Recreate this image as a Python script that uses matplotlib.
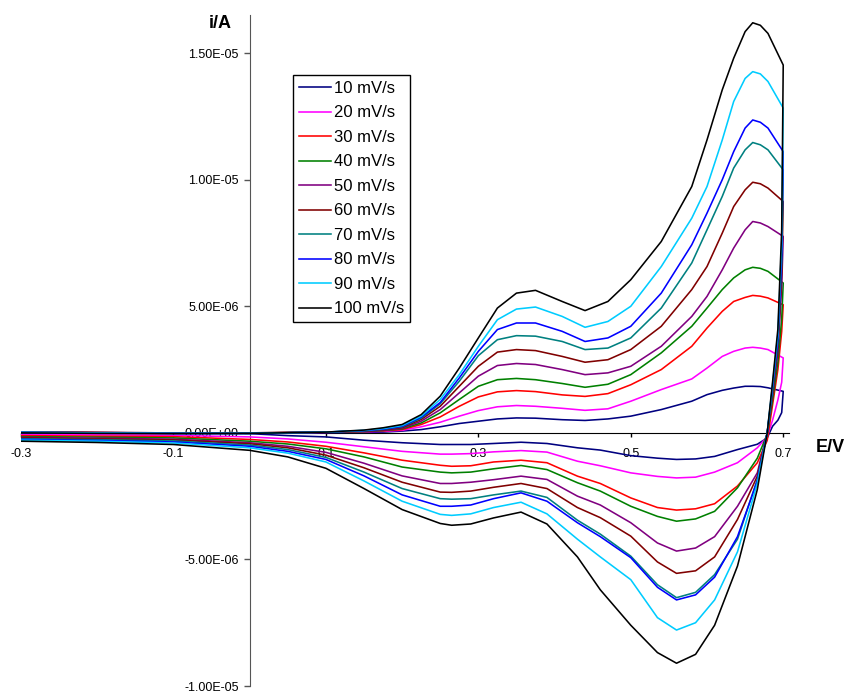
import matplotlib
matplotlib.use("Agg")
import matplotlib.pyplot as plt
from matplotlib.ticker import FixedLocator, FuncFormatter

plt.rcParams["font.family"] = ["Liberation Sans", "DejaVu Sans"]

# potentials (V) for the forward (anodic) scan and the return scan
fwd_E = [-0.3, -0.2, -0.1, 0.0, 0.1, 0.15, 0.175, 0.2, 0.225, 0.25, 0.275, 0.3, 0.325,
         0.35, 0.375, 0.41, 0.44, 0.47, 0.5, 0.54, 0.58, 0.6, 0.62, 0.635, 0.65, 0.66,
         0.67, 0.68, 0.7]
rev_E = [0.698, 0.693, 0.686, 0.679, 0.666, 0.64, 0.61, 0.585, 0.56, 0.535, 0.5,
         0.46, 0.43, 0.39, 0.356, 0.32, 0.29, 0.265, 0.25, 0.2, 0.15, 0.1, 0.05, 0.0,
         -0.1, -0.2, -0.3]

labels = ["10 mV/s", "20 mV/s", "30 mV/s", "40 mV/s", "50 mV/s",
          "60 mV/s", "70 mV/s", "80 mV/s", "90 mV/s", "100 mV/s"]
colors = ["#000080", "#FF00FF", "#FF0000", "#008000", "#800080",
          "#800000", "#008080", "#0000FF", "#00CCFF", "#000000"]

# currents in microamps
fwd_i10 = [0.02, 0.01, 0.0, 0.0, 0.01, 0.02, 0.03, 0.07, 0.13, 0.24, 0.37, 0.46, 0.55,
           0.59, 0.58, 0.52, 0.49, 0.55, 0.66, 0.92, 1.25, 1.51, 1.68, 1.77, 1.84, 1.84,
           1.83, 1.78, 1.64]
fwd_i20 = [0.03, 0.01, 0.0, 0.0, 0.02, 0.04, 0.06, 0.1, 0.24, 0.42, 0.66, 0.88, 1.03,
           1.08, 1.05, 0.97, 0.89, 0.95, 1.25, 1.71, 2.13, 2.56, 3.02, 3.22, 3.35, 3.38,
           3.35, 3.29, 2.96]
fwd_i30 = [0.03, 0.01, 0.0, 0.0, 0.03, 0.05, 0.08, 0.13, 0.33, 0.63, 1.05, 1.42, 1.62,
           1.67, 1.63, 1.5, 1.44, 1.55, 1.9, 2.5, 3.42, 4.14, 4.8, 5.19, 5.35, 5.43,
           5.4, 5.33, 5.06]
fwd_i40 = [0.03, 0.01, 0.0, 0.0, 0.03, 0.05, 0.09, 0.16, 0.39, 0.79, 1.32, 1.84, 2.1,
           2.15, 2.1, 1.95, 1.8, 1.92, 2.3, 3.16, 4.21, 4.93, 5.66, 6.12, 6.44, 6.54,
           6.5, 6.38, 5.92]
fwd_i50 = [0.03, 0.01, -0.01, -0.01, 0.03, 0.06, 0.1, 0.18, 0.46, 0.92, 1.58, 2.24, 2.66,
           2.74, 2.7, 2.5, 2.3, 2.37, 2.63, 3.42, 4.6, 5.39, 6.44, 7.3, 8.02, 8.35,
           8.29, 8.15, 7.76]
fwd_i60 = [0.03, 0.01, -0.01, -0.01, 0.03, 0.07, 0.12, 0.21, 0.53, 1.05, 1.84, 2.63, 3.19,
           3.29, 3.25, 3.02, 2.79, 2.89, 3.29, 4.21, 5.66, 6.57, 7.89, 8.94, 9.6, 9.9,
           9.84, 9.67, 9.14]
fwd_i70 = [0.02, 0.0, -0.02, -0.02, 0.03, 0.08, 0.14, 0.24, 0.58, 1.15, 2.04, 3.05, 3.68,
           3.84, 3.82, 3.61, 3.29, 3.35, 3.75, 4.93, 6.71, 8.02, 9.34, 10.46, 11.18,
           11.47, 11.38, 11.18, 10.39]
fwd_i80 = [0.02, 0.0, -0.02, -0.02, 0.03, 0.09, 0.15, 0.26, 0.62, 1.2, 2.17, 3.22, 4.08,
           4.34, 4.34, 4.01, 3.61, 3.75, 4.21, 5.52, 7.43, 8.68, 10.0, 11.11, 12.04,
           12.36, 12.27, 12.04, 11.11]
fwd_i90 = [0.02, 0.0, -0.02, -0.02, 0.03, 0.1, 0.17, 0.29, 0.66, 1.32, 2.3, 3.42, 4.47,
           4.89, 4.97, 4.6, 4.17, 4.4, 5.0, 6.57, 8.48, 9.73, 11.57, 13.09, 14.0, 14.27,
           14.18, 13.88, 12.83]
fwd_i100 = [0.0, -0.02, -0.03, -0.02, 0.03, 0.11, 0.2, 0.33, 0.72, 1.45, 2.56, 3.75, 4.93,
            5.52, 5.63, 5.19, 4.83, 5.19, 6.05, 7.56, 9.73, 11.57, 13.55, 14.8, 15.85,
            16.2, 16.1, 15.78, 14.53]

rev_i10 = [0.8, 0.5, 0.26, -0.2, -0.45, -0.66, -0.93, -1.03, -1.05, -1.0, -0.9, -0.68,
           -0.59, -0.42, -0.37, -0.42, -0.46, -0.46, -0.46, -0.39, -0.29, -0.16, -0.11,
           -0.03, -0.03, -0.03, -0.03]
rev_i20 = [2.0, 1.3, 0.5, -0.15, -0.59, -1.18, -1.55, -1.75, -1.78, -1.72, -1.58, -1.3,
           -1.12, -0.76, -0.7, -0.75, -0.82, -0.84, -0.84, -0.73, -0.55, -0.37, -0.24,
           -0.16, -0.1, -0.08, -0.07]
rev_i30 = [4.0, 2.5, 1.1, -0.3, -1.18, -2.1, -2.8, -3.0, -3.05, -2.95, -2.57, -2.0,
           -1.71, -1.18, -1.08, -1.15, -1.3, -1.32, -1.28, -1.08, -0.79, -0.53, -0.36,
           -0.26, -0.15, -0.13, -0.11]
rev_i40 = [4.5, 2.8, 1.3, -0.05, -1.0, -2.17, -3.1, -3.4, -3.49, -3.3, -2.9, -2.3,
           -1.97, -1.45, -1.29, -1.42, -1.55, -1.58, -1.55, -1.35, -0.95, -0.63, -0.44,
           -0.33, -0.2, -0.17, -0.15]
rev_i50 = [5.8, 3.2, 1.5, 0.0, -1.58, -2.9, -4.1, -4.55, -4.67, -4.35, -3.55, -2.85,
           -2.5, -1.84, -1.71, -1.85, -1.95, -2.0, -2.0, -1.7, -1.2, -0.77, -0.53,
           -0.39, -0.25, -0.21, -0.18]
rev_i60 = [6.3, 3.4, 1.6, 0.0, -1.71, -3.42, -4.9, -5.45, -5.55, -5.1, -4.08, -3.35,
           -2.95, -2.2, -2.0, -2.15, -2.3, -2.35, -2.34, -1.95, -1.38, -0.88, -0.59,
           -0.43, -0.28, -0.24, -0.2]
rev_i70 = [6.8, 3.6, 1.7, 0.0, -1.84, -4.2, -5.6, -6.3, -6.51, -6.0, -4.87, -4.0,
           -3.45, -2.55, -2.3, -2.45, -2.6, -2.62, -2.6, -2.2, -1.55, -0.97, -0.66,
           -0.48, -0.32, -0.27, -0.23]
rev_i80 = [7.0, 3.7, 1.8, 0.0, -1.9, -4.1, -5.7, -6.4, -6.6, -6.1, -4.93, -4.1,
           -3.55, -2.7, -2.37, -2.6, -2.85, -2.9, -2.9, -2.45, -1.7, -1.05, -0.73,
           -0.53, -0.36, -0.3, -0.26]
rev_i90 = [7.5, 3.9, 1.9, 0.0, -2.0, -4.7, -6.6, -7.5, -7.79, -7.3, -5.8, -4.9,
           -4.2, -3.2, -2.74, -2.95, -3.2, -3.26, -3.22, -2.7, -1.9, -1.15, -0.8,
           -0.59, -0.4, -0.33, -0.29]
rev_i100 = [8.0, 4.1, 2.0, 0.0, -2.24, -5.26, -7.6, -8.75, -9.1, -8.68, -7.6, -6.2,
            -4.9, -3.6, -3.13, -3.36, -3.6, -3.65, -3.58, -3.03, -2.2, -1.4, -0.95,
            -0.69, -0.46, -0.38, -0.33]

fwd_all = [fwd_i10, fwd_i20, fwd_i30, fwd_i40, fwd_i50,
           fwd_i60, fwd_i70, fwd_i80, fwd_i90, fwd_i100]
rev_all = [rev_i10, rev_i20, rev_i30, rev_i40, rev_i50,
           rev_i60, rev_i70, rev_i80, rev_i90, rev_i100]

y_ticks = [-1e-5, -5e-6, 0.0, 5e-6, 1e-5, 1.5e-5]
x_ticks = [-0.3, -0.1, 0.1, 0.3, 0.5, 0.7]

fig = plt.figure(figsize=(8.48, 6.93), dpi=100)
ax = fig.add_axes([0.0248, 0.0101, 0.906, 0.968])

for fwd, rev, lab, col in zip(fwd_all, rev_all, labels, colors):
    E = fwd_E + rev_E
    i = [v * 1e-6 for v in fwd + rev]
    ax.plot(E, i, color=col, lw=1.15, label=lab)

ax.set_xlim(-0.3, 0.708)
ax.set_ylim(-1e-5, 1.65e-5)

ax.spines["top"].set_visible(False)
ax.spines["right"].set_visible(False)
ax.spines["left"].set_position(("data", 0))
ax.spines["bottom"].set_position(("data", 0))
ax.spines["left"].set_color("#555555")
ax.spines["bottom"].set_color("black")
ax.spines["left"].set_zorder(0)
ax.spines["bottom"].set_zorder(0)

ax.yaxis.set_major_locator(FixedLocator(y_ticks))
ax.yaxis.set_major_formatter(FuncFormatter(
    lambda v, p: "0.00E+00" if v == 0 else f"{v:.2E}"))
ax.xaxis.set_major_locator(FixedLocator(x_ticks))
ax.xaxis.set_major_formatter(FuncFormatter(lambda v, p: f"{v:g}"))

ax.tick_params(axis="y", direction="out", length=4, width=1, color="#555555",
               labelsize=9, pad=4)
ax.tick_params(axis="x", direction="out", length=3, width=1, labelsize=9, pad=8)

fig.text(220 / 848, 1 - 23 / 693, "i/A", fontsize=13, fontweight="bold",
         ha="center", va="center")
fig.text(830 / 848, 1 - 447 / 693, "E/V", fontsize=13, fontweight="bold",
         ha="center", va="center")

leg = ax.legend(loc="upper left", bbox_to_anchor=(293 / 848, 1 - 75 / 693),
                bbox_transform=fig.transFigure, fontsize=12, frameon=True,
                fancybox=False, edgecolor="black", framealpha=1,
                handlelength=1.9, handletextpad=0.2, labelspacing=0.57,
                borderpad=0.35, borderaxespad=0)
leg.get_frame().set_linewidth(1.0)

fig.savefig("out.png", dpi=100)
